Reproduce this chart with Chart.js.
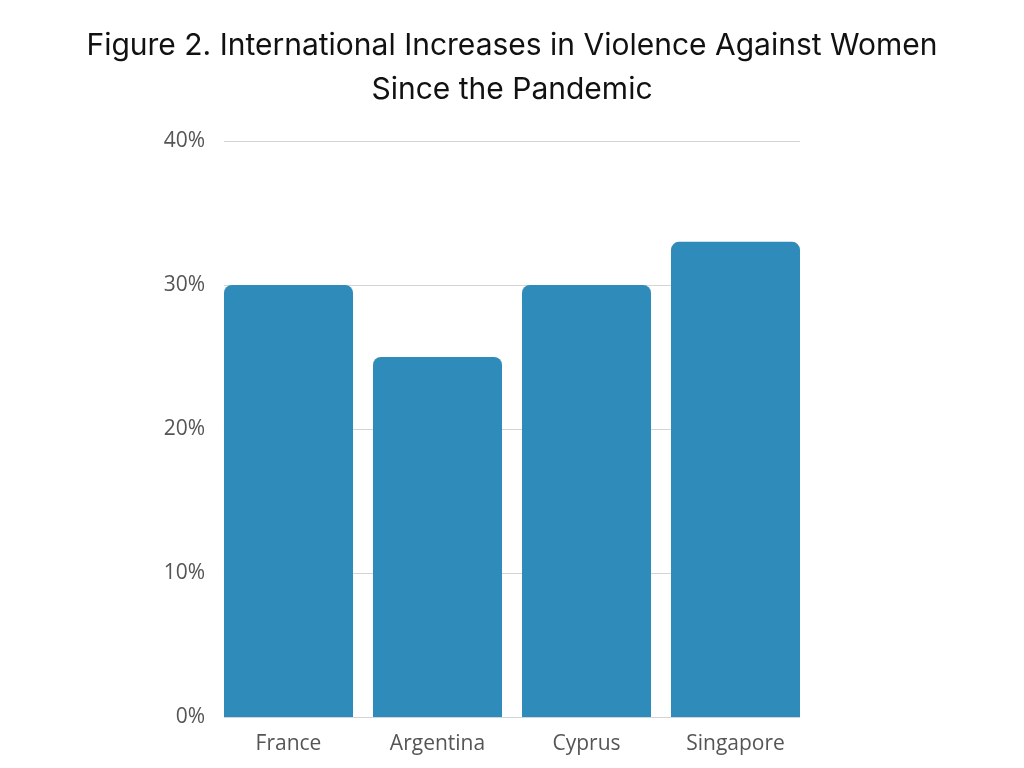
<!DOCTYPE html>
<html lang="en">
  <head>
    <meta charset="UTF-8" />
    <title>Violence Against Women</title>
    <style>
      html, body { margin: 0; padding: 0; background: #fff; }
      .chartBox { width: 1024px; height: 768px; }
    </style>
  </head>
  <body>
    <div class="chartBox">
      <canvas id="myChart" width="1024" height="768"></canvas>
    </div>
    <script src="https://cdn.jsdelivr.net/npm/chart.js/dist/chart.umd.min.js"></script>
    <script>
      // data
      const countries = ['France', 'Argentina', 'Cyprus', 'Singapore'];
      const increases = [30, 25, 30, 33];
      const yTicks = [0, 10, 20, 30, 40];

      // grid lines only span from the first bar's left edge to the last bar's right edge
      const barGrid = {
        id: 'barGrid',
        beforeDatasetsDraw(chart) {
          const bars = chart.getDatasetMeta(0).data;
          if (!bars.length) return;
          const first = bars[0].getProps(['x', 'width'], true);
          const last = bars[bars.length - 1].getProps(['x', 'width'], true);
          const x0 = first.x - first.width / 2;
          const x1 = last.x + last.width / 2;
          const y = chart.scales.y;
          const ctx = chart.ctx;
          ctx.save();
          ctx.strokeStyle = '#d4d4d4';
          ctx.lineWidth = 1;
          yTicks.forEach(v => {
            const py = Math.round(y.getPixelForValue(v)) + 0.5;
            ctx.beginPath();
            ctx.moveTo(x0, py);
            ctx.lineTo(x1, py);
            ctx.stroke();
          });
          ctx.restore();
        }
      };

      const data = {
        labels: countries,
        datasets: [{
          label: 'Increase',
          data: increases,
          backgroundColor: '#2e8bba',
          borderRadius: 8,
          borderSkipped: 'start',
          barPercentage: 0.866,
          categoryPercentage: 1
        }]
      };

      const tickFont = { family: 'Open Sans', size: 21, weight: '400' };

      const config = {
        type: 'bar',
        data,
        plugins: [barGrid],
        options: {
          responsive: false,
          animation: false,
          layout: { padding: 0 },
          plugins: {
            legend: { display: false },
            tooltip: { enabled: false },
            title: {
              display: true,
              text: ['Figure 2. International Increases in Violence Against Women', 'Since the Pandemic'],
              color: '#111',
              font: { family: 'Inter', size: 30, weight: '400', lineHeight: 44 / 30 },
              padding: { top: 24, bottom: 29 }
            }
          },
          scales: {
            x: {
              grid: { display: false },
              border: { display: false },
              ticks: { color: '#555', padding: 6, font: tickFont },
              afterFit: axis => { axis.height = 51; }
            },
            y: {
              min: 0,
              max: 40,
              afterBuildTicks: axis => { axis.ticks = yTicks.map(v => ({ value: v })); },
              grid: { display: false },
              border: { display: false },
              ticks: {
                color: '#555',
                padding: 1,
                font: tickFont,
                callback: v => v + '%'
              },
              afterFit: axis => { axis.width = 214; }
            },
            // empty axis on the right, just to keep the plot centred
            yRight: {
              position: 'right',
              min: 0,
              max: 40,
              grid: { display: false },
              border: { display: false },
              ticks: { display: false },
              afterFit: axis => { axis.width = 214; }
            }
          }
        }
      };

      const myChart = new Chart(document.getElementById('myChart'), config);
    </script>
  </body>
</html>
